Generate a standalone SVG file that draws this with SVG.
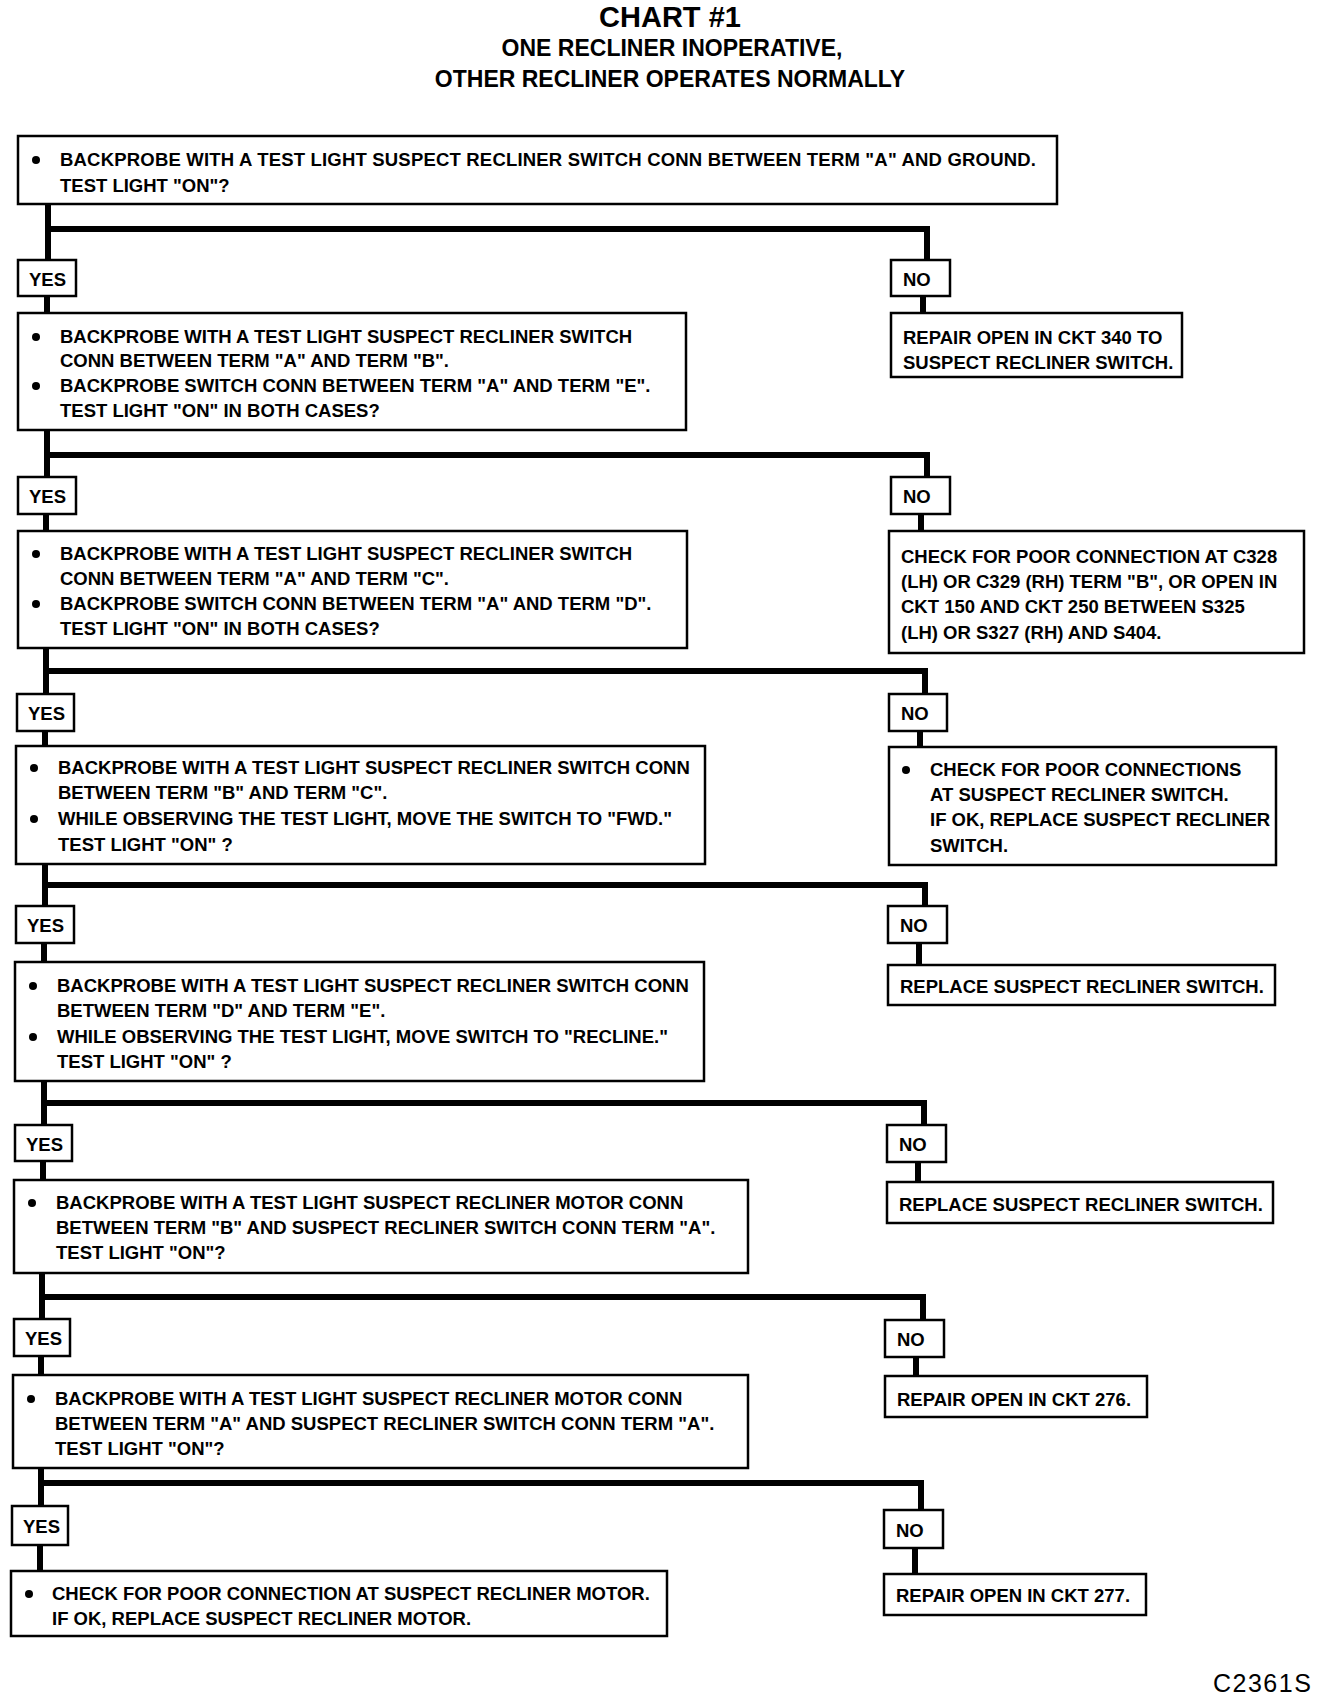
<svg xmlns="http://www.w3.org/2000/svg" width="1328" height="1700" viewBox="0 0 1328 1700">
<style>
.bg{fill:#fff}
.box{fill:#fff;stroke:#000;stroke-width:2.5}
.t{font-family:"Liberation Sans",Arial,sans-serif;font-weight:bold;font-size:18.5px;fill:#000}
.h1{font-family:"Liberation Sans",Arial,sans-serif;font-weight:bold;font-size:29px;fill:#000;text-anchor:middle}
.h2{font-family:"Liberation Sans",Arial,sans-serif;font-weight:bold;font-size:23px;fill:#000;text-anchor:middle}
.code{font-family:"Liberation Sans",Arial,sans-serif;font-size:25px;letter-spacing:1.5px;fill:#000}
.conn{fill:none;stroke:#000;stroke-width:6;stroke-linejoin:miter}
.dot{fill:#000}
</style>
<rect class="bg" x="0" y="0" width="1328" height="1700"/>
<g id="title">
<text class="h1" x="670" y="27">CHART #1</text>
<text class="h2" x="672" y="56">ONE RECLINER INOPERATIVE,</text>
<text class="h2" x="670" y="87">OTHER RECLINER OPERATES NORMALLY</text>
</g>
<g id="connectors">
<path class="conn" d="M48 204V260M48 229H927V260M923 296V313M47 296V313"/>
<path class="conn" d="M47 430V477M47 455H927V477M921 514V531M46 514V531"/>
<path class="conn" d="M46 648V694M46 671H925V694M920 731V747M45 731V746"/>
<path class="conn" d="M45 864V906M45 885H925V906M919 943V965M44 943V962"/>
<path class="conn" d="M44 1081V1125M44 1103H924V1125M918 1162V1182M43 1161V1180"/>
<path class="conn" d="M42 1273V1319M42 1297H923V1320M916 1357V1376M41 1356V1375"/>
<path class="conn" d="M41 1468V1506M41 1483H921V1510M915 1548V1574M40 1545V1571"/>
</g>
<g id="q1">
<rect class="box" x="18" y="136" width="1039" height="68"/>
<circle class="dot" cx="36" cy="160" r="4"/>
<text class="t" x="60" y="166" textLength="976" lengthAdjust="spacing">BACKPROBE WITH A TEST LIGHT SUSPECT RECLINER SWITCH CONN BETWEEN TERM "A" AND GROUND.</text>
<text class="t" x="60" y="192">TEST LIGHT "ON"?</text>
</g>
<g id="yes1"><rect class="box" x="18" y="260" width="58" height="36"/><text class="t" x="29" y="286">YES</text></g>
<g id="no1"><rect class="box" x="891" y="260" width="59" height="36"/><text class="t" x="903" y="286">NO</text></g>
<g id="a1">
<rect class="box" x="891" y="313" width="291" height="64"/>
<text class="t" x="903" y="344">REPAIR OPEN IN CKT 340 TO</text>
<text class="t" x="903" y="369">SUSPECT RECLINER SWITCH.</text>
</g>
<g id="q2">
<rect class="box" x="18" y="313" width="668" height="117"/>
<circle class="dot" cx="36" cy="337" r="4"/>
<text class="t" x="60" y="343">BACKPROBE WITH A TEST LIGHT SUSPECT RECLINER SWITCH</text>
<text class="t" x="60" y="367">CONN BETWEEN TERM "A" AND TERM "B".</text>
<circle class="dot" cx="36" cy="386" r="4"/>
<text class="t" x="60" y="392">BACKPROBE SWITCH CONN BETWEEN TERM "A" AND TERM "E".</text>
<text class="t" x="60" y="417">TEST LIGHT "ON" IN BOTH CASES?</text>
</g>
<g id="yes2"><rect class="box" x="18" y="477" width="58" height="37"/><text class="t" x="29" y="503">YES</text></g>
<g id="no2"><rect class="box" x="891" y="477" width="59" height="37"/><text class="t" x="903" y="503">NO</text></g>
<g id="a2">
<rect class="box" x="889" y="531" width="415" height="122"/>
<text class="t" x="901" y="563">CHECK FOR POOR CONNECTION AT C328</text>
<text class="t" x="901" y="588">(LH) OR C329 (RH) TERM "B", OR OPEN IN</text>
<text class="t" x="901" y="613">CKT 150 AND CKT 250 BETWEEN S325</text>
<text class="t" x="901" y="639">(LH) OR S327 (RH) AND S404.</text>
</g>
<g id="q3">
<rect class="box" x="18" y="531" width="669" height="117"/>
<circle class="dot" cx="36" cy="554" r="4"/>
<text class="t" x="60" y="560">BACKPROBE WITH A TEST LIGHT SUSPECT RECLINER SWITCH</text>
<text class="t" x="60" y="585">CONN BETWEEN TERM "A" AND TERM "C".</text>
<circle class="dot" cx="36" cy="604" r="4"/>
<text class="t" x="60" y="610">BACKPROBE SWITCH CONN BETWEEN TERM "A" AND TERM "D".</text>
<text class="t" x="60" y="635">TEST LIGHT "ON" IN BOTH CASES?</text>
</g>
<g id="yes3"><rect class="box" x="17" y="694" width="57" height="37"/><text class="t" x="28" y="720">YES</text></g>
<g id="no3"><rect class="box" x="889" y="694" width="58" height="37"/><text class="t" x="901" y="720">NO</text></g>
<g id="a3">
<rect class="box" x="889" y="747" width="387" height="118"/>
<circle class="dot" cx="906" cy="770" r="4"/>
<text class="t" x="930" y="776">CHECK FOR POOR CONNECTIONS</text>
<text class="t" x="930" y="801">AT SUSPECT RECLINER SWITCH.</text>
<text class="t" x="930" y="826">IF OK, REPLACE SUSPECT RECLINER</text>
<text class="t" x="930" y="852">SWITCH.</text>
</g>
<g id="q4">
<rect class="box" x="16" y="746" width="689" height="118"/>
<circle class="dot" cx="34" cy="768" r="4"/>
<text class="t" x="58" y="774">BACKPROBE WITH A TEST LIGHT SUSPECT RECLINER SWITCH CONN</text>
<text class="t" x="58" y="799">BETWEEN TERM "B" AND TERM "C".</text>
<circle class="dot" cx="34" cy="819" r="4"/>
<text class="t" x="58" y="825">WHILE OBSERVING THE TEST LIGHT, MOVE THE SWITCH TO "FWD."</text>
<text class="t" x="58" y="851">TEST LIGHT "ON" ?</text>
</g>
<g id="yes4"><rect class="box" x="16" y="906" width="58" height="37"/><text class="t" x="27" y="932">YES</text></g>
<g id="no4"><rect class="box" x="888" y="906" width="59" height="37"/><text class="t" x="900" y="932">NO</text></g>
<g id="a4">
<rect class="box" x="888" y="965" width="387" height="40"/>
<text class="t" x="900" y="993">REPLACE SUSPECT RECLINER SWITCH.</text>
</g>
<g id="q5">
<rect class="box" x="15" y="962" width="689" height="119"/>
<circle class="dot" cx="33" cy="986" r="4"/>
<text class="t" x="57" y="992">BACKPROBE WITH A TEST LIGHT SUSPECT RECLINER SWITCH CONN</text>
<text class="t" x="57" y="1017">BETWEEN TERM "D" AND TERM "E".</text>
<circle class="dot" cx="33" cy="1037" r="4"/>
<text class="t" x="57" y="1043">WHILE OBSERVING THE TEST LIGHT, MOVE SWITCH TO "RECLINE."</text>
<text class="t" x="57" y="1068">TEST LIGHT "ON" ?</text>
</g>
<g id="yes5"><rect class="box" x="15" y="1125" width="57" height="36"/><text class="t" x="26" y="1151">YES</text></g>
<g id="no5"><rect class="box" x="887" y="1125" width="59" height="37"/><text class="t" x="899" y="1151">NO</text></g>
<g id="a5">
<rect class="box" x="887" y="1182" width="386" height="41"/>
<text class="t" x="899" y="1211">REPLACE SUSPECT RECLINER SWITCH.</text>
</g>
<g id="q6">
<rect class="box" x="14" y="1180" width="734" height="93"/>
<circle class="dot" cx="32" cy="1203" r="4"/>
<text class="t" x="56" y="1209">BACKPROBE WITH A TEST LIGHT SUSPECT RECLINER MOTOR CONN</text>
<text class="t" x="56" y="1234">BETWEEN TERM "B" AND SUSPECT RECLINER SWITCH CONN TERM "A".</text>
<text class="t" x="56" y="1259">TEST LIGHT "ON"?</text>
</g>
<g id="yes6"><rect class="box" x="14" y="1319" width="56" height="37"/><text class="t" x="25" y="1345">YES</text></g>
<g id="no6"><rect class="box" x="885" y="1320" width="59" height="37"/><text class="t" x="897" y="1346">NO</text></g>
<g id="a6">
<rect class="box" x="885" y="1376" width="262" height="41"/>
<text class="t" x="897" y="1406">REPAIR OPEN IN CKT 276.</text>
</g>
<g id="q7">
<rect class="box" x="13" y="1375" width="735" height="93"/>
<circle class="dot" cx="31" cy="1399" r="4"/>
<text class="t" x="55" y="1405">BACKPROBE WITH A TEST LIGHT SUSPECT RECLINER MOTOR CONN</text>
<text class="t" x="55" y="1430">BETWEEN TERM "A" AND SUSPECT RECLINER SWITCH CONN TERM "A".</text>
<text class="t" x="55" y="1455">TEST LIGHT "ON"?</text>
</g>
<g id="yes7"><rect class="box" x="12" y="1506" width="56" height="39"/><text class="t" x="23" y="1533">YES</text></g>
<g id="no7"><rect class="box" x="884" y="1510" width="59" height="38"/><text class="t" x="896" y="1537">NO</text></g>
<g id="a7">
<rect class="box" x="884" y="1574" width="262" height="41"/>
<text class="t" x="896" y="1602">REPAIR OPEN IN CKT 277.</text>
</g>
<g id="q8">
<rect class="box" x="11" y="1571" width="656" height="65"/>
<circle class="dot" cx="29" cy="1594" r="4"/>
<text class="t" x="52" y="1600">CHECK FOR POOR CONNECTION AT SUSPECT RECLINER MOTOR.</text>
<text class="t" x="52" y="1625">IF OK, REPLACE SUSPECT RECLINER MOTOR.</text>
</g>
<text class="code" x="1213" y="1692">C2361S</text>
</svg>
